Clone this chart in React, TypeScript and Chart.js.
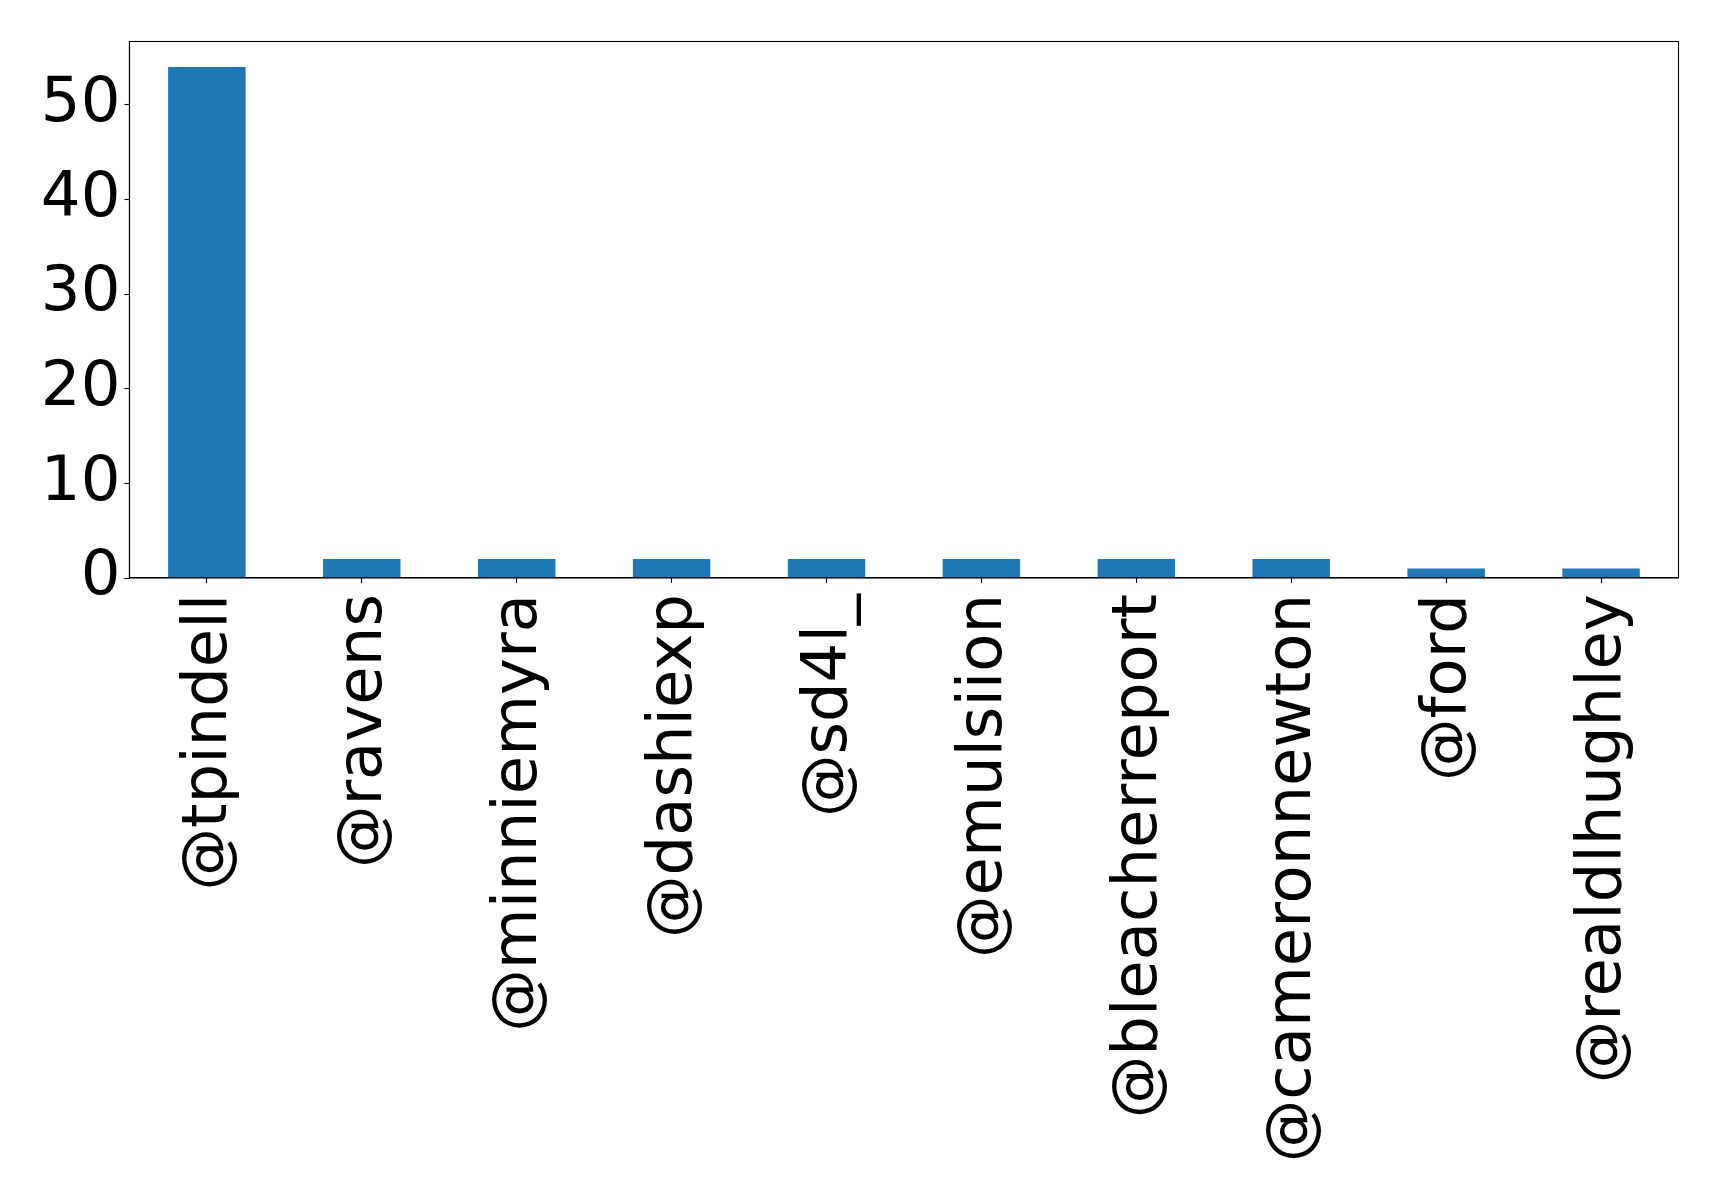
import React, { useEffect, useRef } from "react";
import { Chart, registerables } from "chart.js";

Chart.register(...registerables);

const categories: string[] = [
  "@tpindell",
  "@ravens",
  "@minniemyra",
  "@dashiexp",
  "@sd4l_",
  "@emulsiion",
  "@bleacherreport",
  "@cameronnewton",
  "@ford",
  "@realdlhughley",
];

const counts: number[] = [54, 2, 2, 2, 2, 2, 2, 2, 1, 1];

const yTickStep = 10;

const W = 1719;
const H = 1196;
const AREA_LEFT = 129.4;
const AREA_RIGHT = 1678.5;
const AREA_TOP = 39.5;
const AREA_BOTTOM = 578;

const FONT = "'DejaVu Sans', sans-serif";
const FONT_SIZE = 62.5;

const framePlugin = {
  id: "frame",
  afterDraw(chart: any) {
    const { ctx, chartArea } = chart;
    ctx.save();
    ctx.strokeStyle = "#000";
    ctx.lineWidth = 1.1;
    ctx.strokeRect(
      chartArea.left,
      chartArea.top,
      chartArea.right - chartArea.left,
      chartArea.bottom - chartArea.top
    );
    ctx.restore();
  },
};

export default function App() {
  const ref = useRef<HTMLCanvasElement | null>(null);

  useEffect(() => {
    if (!ref.current) return;
    const yMax = Math.max(...counts) * 1.05;
    const chart = new Chart(ref.current, {
      type: "bar",
      data: {
        labels: categories,
        datasets: [
          {
            data: counts,
            backgroundColor: "#1f77b4",
            borderWidth: 0,
            categoryPercentage: 1,
            barPercentage: 0.5,
          },
        ],
      },
      options: {
        animation: false,
        responsive: false,
        devicePixelRatio: 1,
        events: [],
        layout: {
          padding: {
            left: 0,
            top: AREA_TOP,
            right: W - AREA_RIGHT,
            bottom: 0,
          },
        },
        plugins: {
          legend: { display: false },
          tooltip: { enabled: false },
          title: { display: false },
        },
        scales: {
          x: {
            offset: true,
            grid: {
              display: true,
              offset: false,
              drawOnChartArea: false,
              drawTicks: true,
              tickLength: 5,
              tickWidth: 1.1,
              color: "#000",
            },
            border: { display: true, color: "#000", width: 1.1 },
            ticks: {
              autoSkip: false,
              maxRotation: 90,
              minRotation: 90,
              padding: 11,
              labelOffset: 3,
              color: "#000",
              font: { family: FONT, size: FONT_SIZE },
            },
            afterFit(scale: any) {
              scale.height = H - AREA_BOTTOM;
            },
          },
          y: {
            min: 0,
            max: yMax,
            grid: {
              display: true,
              drawOnChartArea: false,
              drawTicks: true,
              tickLength: 5,
              tickWidth: 1.1,
              color: "#000",
            },
            border: { display: true, color: "#000", width: 1.1 },
            ticks: {
              stepSize: yTickStep,
              includeBounds: false,
              padding: 4,
              color: "#000",
              font: { family: FONT, size: FONT_SIZE },
            },
            afterFit(scale: any) {
              scale.width = AREA_LEFT;
            },
          },
        },
      },
      plugins: [framePlugin],
    });
    return () => chart.destroy();
  }, []);

  return (
    <div
      style={{
        position: "fixed",
        left: 0,
        top: 0,
        width: W,
        height: H,
        background: "#fff",
      }}
    >
      <canvas ref={ref} width={W} height={H} style={{ width: W, height: H }} />
    </div>
  );
}
